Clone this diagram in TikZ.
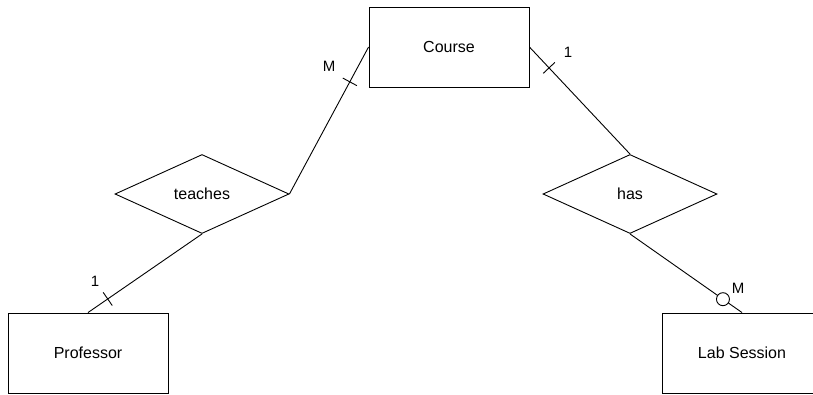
\documentclass[tikz,border=0pt]{standalone}
\usepackage{fontspec}
\setmainfont{Liberation Sans}
\usetikzlibrary{positioning,shapes.geometric,calc}

\begin{document}
\begin{tikzpicture}[x=1pt,y=-1pt,line width=0.9pt,
  entity/.style={draw,rectangle,minimum width=160pt,minimum height=80pt,
                 inner sep=0pt,font=\fontsize{16}{19}\selectfont},
  rel/.style={draw,diamond,minimum width=174pt,minimum height=79pt,
              inner sep=0pt,font=\fontsize{16}{19}\selectfont},
  card/.style={inner sep=0pt,font=\fontsize{15}{18}\selectfont},
  optional/.style={circle,draw,fill=white,minimum size=13pt,inner sep=0pt}]
  \useasboundingbox (0,0) rectangle (813,394);

  \node[entity] (course) at (449,47)  {Course};
  \node[entity] (prof)   at (88,353)  {Professor};
  \node[entity] (lab)    at (742,353) {Lab Session};
  \node[rel] (teaches) at (202,194) {teaches};
  \node[rel] (has)     at (630,194) {has};

  \draw (course.west) -- (teaches.east);
  \draw (course.east) -- (has.north);
  \draw (teaches.south) -- (prof.north);
  \draw (has.south) -- (lab.north) node[optional,pos=0.83] (ring) {};

  % one-bars across the lines
  \foreach \a/\b/\f in {course.west/teaches.east/0.237,
                        course.east/has.north/0.195,
                        prof.north/teaches.south/0.173} {
    \coordinate (tk) at ($(\a)!\f!(\b)$);
    \draw ($(tk)!8pt!90:(\b)$) -- ($(tk)!8pt!-90:(\b)$);
  }

  \node[card] (mcourse) at (329,66)  {M};
  \node[card] (ocourse) at (568,52)  {1};
  \node[card] (oprof)   at (95,281)  {1};
  \node[card] (mlab)    at (738,288) {M};
\end{tikzpicture}
\end{document}
